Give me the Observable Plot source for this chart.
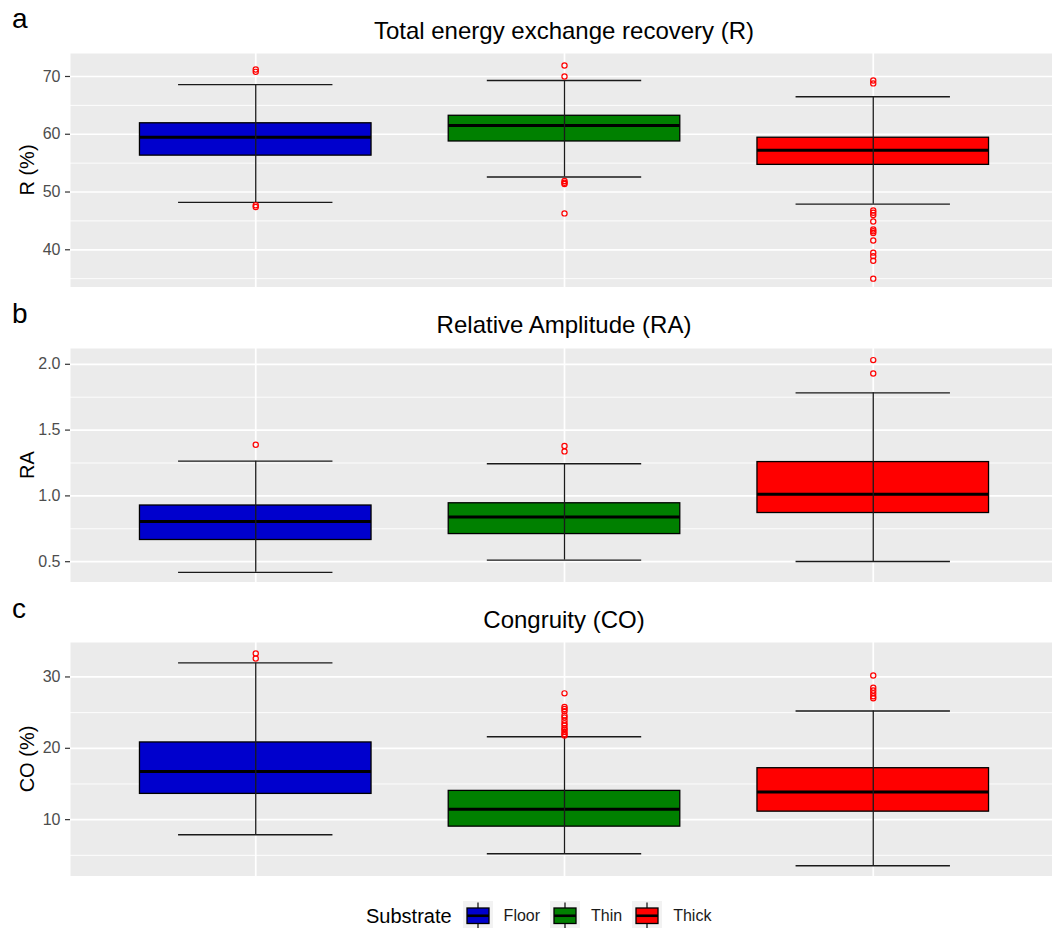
<!DOCTYPE html>
<html><head><meta charset="utf-8">
<script src="https://cdn.jsdelivr.net/npm/d3@7"></script>
<script src="https://cdn.jsdelivr.net/npm/@observablehq/plot@0.6"></script>
<style>
html,body{margin:0;padding:0;background:#fff;overflow:hidden;}
#root{position:relative;width:1052px;height:928px;overflow:hidden;font-family:'Liberation Sans',Arial,sans-serif;background:#fff;}
.t{position:absolute;line-height:1;white-space:nowrap;margin:0;}
#legend{position:absolute;left:366px;top:901px;height:30px;display:flex;align-items:center;}
#legend span{line-height:1;white-space:nowrap;}
</style></head><body><div id="root"></div>
<script>
// ---- data ----
const substrates = ["Floor", "Thin", "Thick"];
const substrateColors = ["#0000CD", "#008000", "#FF0000"];

// a: Total energy exchange recovery, R (%)
const rLower  = [48.2, 52.6, 47.9];
const rQ1     = [56.3, 58.75, 54.7];
const rMedian = [59.5, 61.5, 57.25];
const rQ3     = [61.9, 63.2, 59.4];
const rUpper  = [68.6, 69.3, 66.5];
const rOutFloor = [71.2, 70.8, 47.7, 47.4];
const rOutThin  = [71.9, 70.0, 51.9, 51.6, 51.4, 46.3];
const rOutThick = [69.3, 68.8, 46.8, 46.4, 46.0, 44.9, 43.5, 43.2, 42.9, 41.6, 39.5, 38.9, 38.1, 35.0];
const rTicks = [40, 50, 60, 70];
const rMinor = [35, 45, 55, 65];

// b: Relative Amplitude, RA
const raLower  = [0.419, 0.512, 0.502];
const raQ1     = [0.665, 0.710, 0.870];
const raMedian = [0.805, 0.840, 1.013];
const raQ3     = [0.927, 0.944, 1.257];
const raUpper  = [1.264, 1.244, 1.783];
const raOutFloor = [1.389];
const raOutThin  = [1.379, 1.338];
const raOutThick = [2.032, 1.930];
const raTicks = [0.5, 1.0, 1.5, 2.0];
const raMinor = [0.75, 1.25, 1.75];

// c: Congruity, CO (%)
const coLower  = [7.89, 5.22, 3.53];
const coQ1     = [13.61, 9.02, 11.12];
const coMedian = [16.75, 11.45, 13.89];
const coQ3     = [20.82, 14.03, 17.21];
const coUpper  = [31.97, 21.62, 25.22];
const coOutFloor = [33.29, 32.59];
const coOutThin  = [27.7, 25.8, 25.5, 25.2, 24.6, 24.3, 23.9, 23.5, 23.2, 22.8, 22.6, 22.3, 22.0, 21.8];
const coOutThick = [30.2, 28.5, 28.1, 27.7, 27.3, 27.0];
const coTicks = [10, 20, 30];
const coMinor = [5, 15, 25];

const panels = [
  {tag: "a", title: "Total energy exchange recovery (R)", ylabel: "R (%)", top: 53, domain: [33.47, 73.98],
   lower: rLower, q1: rQ1, median: rMedian, q3: rQ3, upper: rUpper, out: [rOutFloor, rOutThin, rOutThick],
   ticks: rTicks, minor: rMinor, fmt: d3.format("d")},
  {tag: "b", title: "Relative Amplitude (RA)", ylabel: "RA", top: 347.7, domain: [0.342, 2.120],
   lower: raLower, q1: raQ1, median: raMedian, q3: raQ3, upper: raUpper, out: [raOutFloor, raOutThin, raOutThick],
   ticks: raTicks, minor: raMinor, fmt: d3.format(".1f")},
  {tag: "c", title: "Congruity (CO)", ylabel: "CO (%)", top: 642.3, domain: [2.03, 34.83],
   lower: coLower, q1: coQ1, median: coMedian, q3: coQ3, upper: coUpper, out: [coOutFloor, coOutThin, coOutThick],
   ticks: coTicks, minor: coMinor, fmt: d3.format("d")}
];

// ---- drawing ----
const root = document.getElementById("root");
const FONT = "'Liberation Sans', Arial, sans-serif";
const PANEL_H = 234, ML = 70, MR = -6, W = 1052;

function addText(txt, {left, baseline, size, color = "#000", center = false}) {
  const d = document.createElement("div");
  d.className = "t";
  d.textContent = txt;
  d.style.fontSize = size + "px";
  d.style.color = color;
  d.style.left = left + "px";
  d.style.top = (baseline - 0.8465 * size) + "px";
  if (center) d.style.transform = "translateX(-50%)";
  root.appendChild(d);
}
function addYLabel(txt, {x, cy, size}) {
  const d = document.createElement("div");
  d.className = "t";
  d.textContent = txt;
  d.style.fontSize = size + "px";
  d.style.left = x + "px";
  d.style.top = cy + "px";
  d.style.transformOrigin = "0 0";
  d.style.transform = `rotate(-90deg) translate(-50%, ${-0.8465 * size}px)`;
  root.appendChild(d);
}

const panelCenterX = (ML + (W - MR)) / 2;

panels.forEach(p => {
  const stats = substrates.map((s, i) => ({
    s, i: i + 1, lower: p.lower[i], q1: p.q1[i], median: p.median[i], q3: p.q3[i], upper: p.upper[i]
  }));
  const pts = p.out.flatMap((arr, i) => arr.map(v => ({s: substrates[i], i: i + 1, v})));

  const chart = Plot.plot({
    width: W, height: PANEL_H,
    marginTop: 0, marginBottom: 0, marginLeft: ML, marginRight: MR,
    style: {background: "transparent", overflow: "hidden", fontFamily: FONT},
    x: {domain: [0.4, 3.6], axis: null},
    y: {domain: p.domain},
    color: {domain: substrates, range: substrateColors},
    marks: [
      Plot.frame({fill: "#EBEBEB", stroke: "none"}),
      Plot.ruleY(p.minor, {stroke: "#FFFFFF", strokeWidth: 0.9}),
      Plot.ruleY(p.ticks, {stroke: "#FFFFFF", strokeWidth: 1.7}),
      Plot.ruleX([1, 2, 3], {stroke: "#FFFFFF", strokeWidth: 1.7}),
      Plot.axisY(p.ticks, {tickSize: 5, tickPadding: 5, fontSize: 16, fill: "#4D4D4D", stroke: "#333333",
                           strokeWidth: 1.2, tickFormat: p.fmt, label: null}),
      Plot.rect(stats, {x1: d => d.i - 0.375, x2: d => d.i + 0.375, y1: "q1", y2: "q3",
                        fill: "s", stroke: "#000", strokeWidth: 1.3}),
      Plot.ruleY(stats, {x1: d => d.i - 0.375, x2: d => d.i + 0.375, y: "median", stroke: "#000", strokeWidth: 3}),
      Plot.ruleX(stats, {x: "i", y1: "lower", y2: "upper", stroke: "#1a1a1a", strokeWidth: 1.3}),
      Plot.ruleY(stats, {x1: d => d.i - 0.25, x2: d => d.i + 0.25, y: "lower", stroke: "#1a1a1a", strokeWidth: 1.4}),
      Plot.ruleY(stats, {x1: d => d.i - 0.25, x2: d => d.i + 0.25, y: "upper", stroke: "#1a1a1a", strokeWidth: 1.4}),
      Plot.dot(pts, {x: "i", y: "v", r: 2.6, stroke: "#FF0000", fill: "none", strokeWidth: 1.2})
    ]
  });
  chart.style.position = "absolute";
  chart.style.left = "0px";
  chart.style.top = p.top + "px";
  root.appendChild(chart);

  addText(p.tag, {left: 12, baseline: p.top - 24, size: 28});
  addText(p.title, {left: panelCenterX, baseline: p.top - 14, size: 24, center: true});
  addYLabel(p.ylabel, {x: 34, cy: p.top + PANEL_H / 2, size: 20});
});

// ---- legend ----
const legend = document.createElement("div");
legend.id = "legend";
const lt = document.createElement("span");
lt.textContent = "Substrate";
lt.style.fontSize = "20px";
lt.style.marginRight = "11px";
legend.appendChild(lt);
const NS = "http://www.w3.org/2000/svg";
substrates.forEach((s, i) => {
  const svg = document.createElementNS(NS, "svg");
  svg.setAttribute("width", 30); svg.setAttribute("height", 30);
  svg.style.marginRight = "11px";
  svg.style.display = "block";
  const bg = document.createElementNS(NS, "rect");
  bg.setAttribute("width", 30); bg.setAttribute("height", 30); bg.setAttribute("fill", "#F2F2F2");
  svg.appendChild(bg);
  const vl = document.createElementNS(NS, "line");
  vl.setAttribute("x1", 15); vl.setAttribute("x2", 15); vl.setAttribute("y1", 1.5); vl.setAttribute("y2", 28.5);
  vl.setAttribute("stroke", "#1a1a1a"); vl.setAttribute("stroke-width", 1.3);
  svg.appendChild(vl);
  const bx = document.createElementNS(NS, "rect");
  bx.setAttribute("x", 4); bx.setAttribute("y", 7); bx.setAttribute("width", 22); bx.setAttribute("height", 15.5);
  bx.setAttribute("fill", substrateColors[i]); bx.setAttribute("stroke", "#000"); bx.setAttribute("stroke-width", 1.3);
  svg.appendChild(bx);
  const md = document.createElementNS(NS, "line");
  md.setAttribute("x1", 4); md.setAttribute("x2", 26); md.setAttribute("y1", 14.75); md.setAttribute("y2", 14.75);
  md.setAttribute("stroke", "#000"); md.setAttribute("stroke-width", 2.6);
  svg.appendChild(md);
  legend.appendChild(svg);
  const lab = document.createElement("span");
  lab.textContent = s;
  lab.style.fontSize = "16px";
  lab.style.color = "#1a1a1a";
  lab.style.marginRight = "10px";
  legend.appendChild(lab);
});
root.appendChild(legend);
</script>
</body></html>
